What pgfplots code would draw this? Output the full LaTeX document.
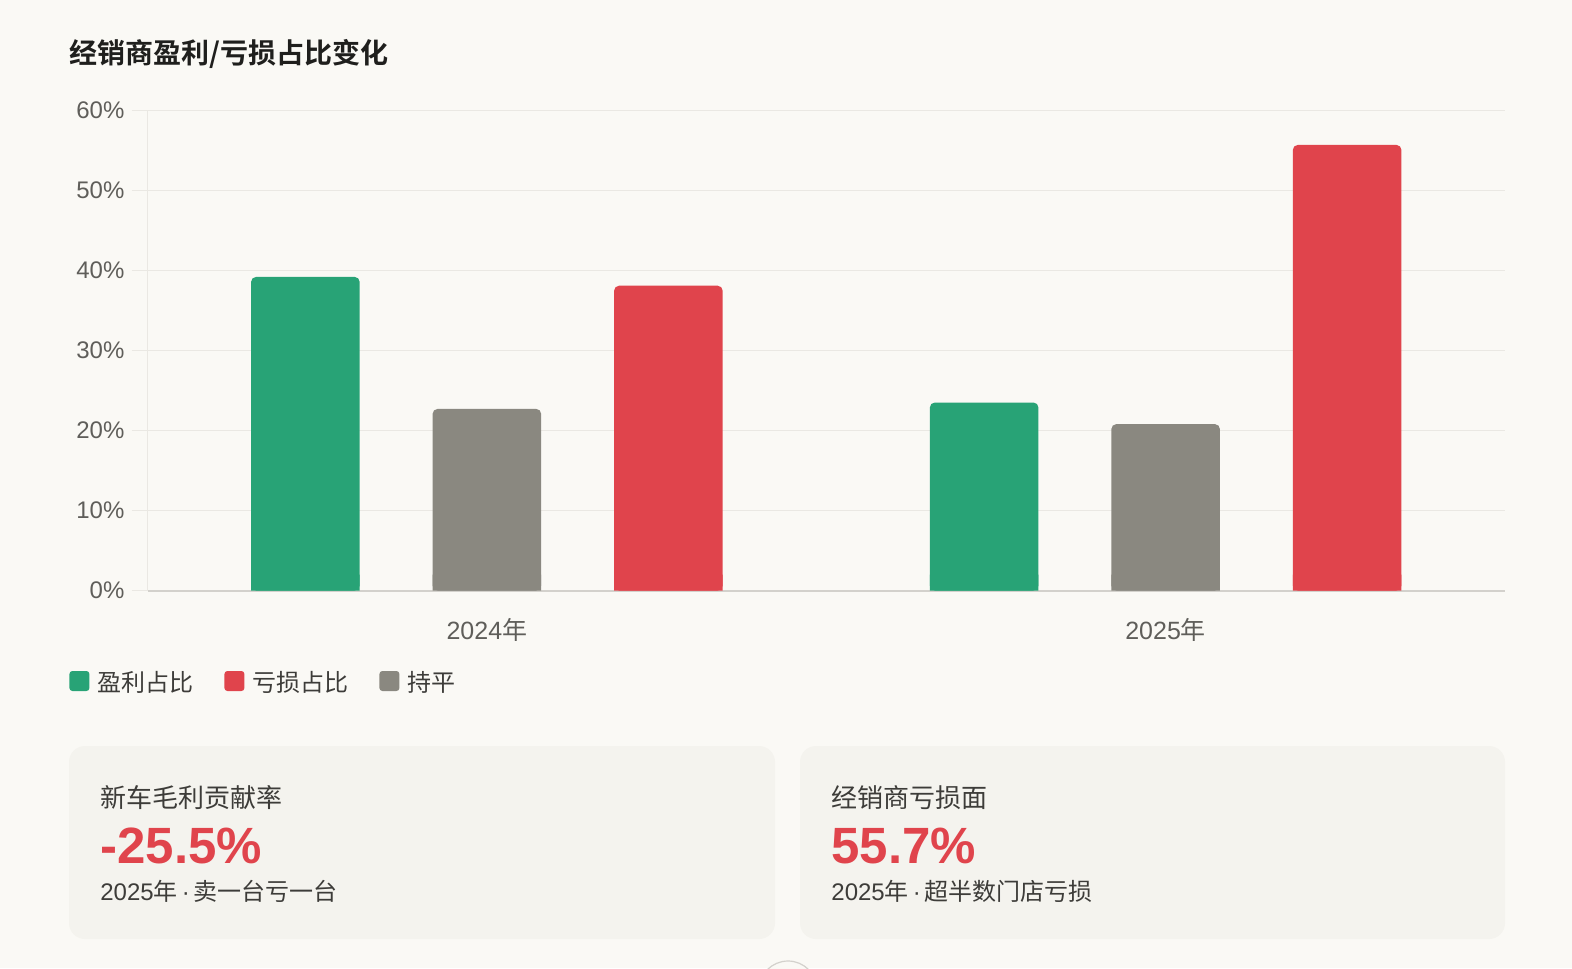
\documentclass[border=0pt]{standalone}
\usepackage{pgfplots}
\pgfplotsset{compat=1.18}
\usepackage{pgfplotstable}
\usepackage{fontspec}
\setmainfont{Liberation Sans}
\newfontfamily\cjk{Noto Sans CJK SC}[BoldFont={Noto Sans CJK SC Bold}]
\definecolor{bgc}{HTML}{FAF9F5}
\definecolor{cardc}{HTML}{F4F3EE}
\definecolor{cgreen}{HTML}{28A376}
\definecolor{cgray}{HTML}{8A8880}
\definecolor{cred}{HTML}{E0444C}
\definecolor{gridc}{HTML}{EAE8E3}
\definecolor{axisc}{HTML}{D3D1CC}
\definecolor{tickc}{HTML}{5F5E5A}
\definecolor{txtc}{HTML}{3D3C39}
\definecolor{titlec}{HTML}{1F1F1D}

\pgfplotstableread{
x v
0 39.2
1 23.5
}\profit
\pgfplotstableread{
x v
0 38.1
1 55.7
}\loss
\pgfplotstableread{
x v
0 22.7
1 20.8
}\flat

\begin{document}
\begin{tikzpicture}
\begin{scope}[x=0.5pt,y=-0.5pt]
\path[use as bounding box, fill=bgc] (0,0) rectangle (1572,968);
% title
\node[anchor=west, inner sep=0pt, text=titlec, font=\cjk\bfseries\fontsize{14}{16}\selectfont] at (69,54) {经销商盈利/亏损占比变化};
% cards
\fill[cardc, rounded corners=8pt] (69,746) rectangle (775,939);
\fill[cardc, rounded corners=8pt] (800,746) rectangle (1505,939);
\node[anchor=west, inner sep=0pt, text=txtc, font=\cjk\fontsize{13}{15}\selectfont] at (100,798) {新车毛利贡献率};
\node[anchor=west, inner sep=0pt, text=cred, font=\bfseries\fontsize{25.5}{28}\selectfont] at (100,846) {-25.5\%};
\node[anchor=west, inner sep=0pt, text=txtc, font=\fontsize{12}{14}\selectfont] at (100,891) {2025{\cjk 年}\,·\,{\cjk 卖一台亏一台}};
\node[anchor=west, inner sep=0pt, text=txtc, font=\cjk\fontsize{13}{15}\selectfont] at (831,798) {经销商亏损面};
\node[anchor=west, inner sep=0pt, text=cred, font=\bfseries\fontsize{25.5}{28}\selectfont] at (831,846) {55.7\%};
\node[anchor=west, inner sep=0pt, text=txtc, font=\fontsize{12}{14}\selectfont] at (831,891) {2025{\cjk 年}\,·\,{\cjk 超半数门店亏损}};
% bottom circle
\begin{scope}
\clip (0,0) rectangle (1572,968);
\draw[draw=axisc, fill=bgc, line width=0.6pt] (788,990) circle[radius=14.5pt];
\end{scope}
\end{scope}

\begin{axis}[
  at={(73.75pt,-295.25pt)}, anchor=south west,
  scale only axis, width=678.75pt, height=240pt,
  xmin=-0.5, xmax=1.5, ymin=0, ymax=60,
  ytick={0,10,...,60},
  xtick={0,1}, xticklabels={{2024{\cjk 年}},{2025{\cjk 年}}},
  axis x line*=bottom, axis y line*=left,
  x axis line style={draw=axisc, line width=1pt, -},
  y axis line style={draw=gridc, line width=0.75pt, -},
  ymajorgrids, grid style={draw=gridc, line width=0.75pt},
  ytick style={draw=gridc, line width=0.75pt}, major tick length=8pt, tick align=outside,
  xtick style={draw=none},
  /pgf/number format/assume math mode=true,
  yticklabel={\pgfmathprintnumber{\tick}\%},
  yticklabel style={font=\fontsize{12}{13}\selectfont, text=tickc},
  xticklabel style={font=\fontsize{12.5}{14}\selectfont, text=tickc, yshift=-2.5pt},
  ybar, bar width=0.160,
  legend columns=3,
  legend style={at={(axis description cs:-0.0578,-0.1927)}, anchor=west,
    draw=none, fill=none, inner sep=0pt,
    font=\cjk\fontsize{12}{14}\selectfont, text=txtc,
    /tikz/every odd column/.append style={column sep=2pt},
    /tikz/every even column/.append style={column sep=13.5pt}},
  legend cell align=left,
]
\addplot[fill=cgreen, draw=none, bar shift=-0.2674, rounded corners=2.5pt,
  legend image code/.code={\fill[cgreen,rounded corners=1.5pt] (0pt,-4pt) rectangle (10pt,6pt);}]
  table[x=x,y=v] {\profit};
\addlegendentry{盈利占比}
\addplot[fill=cred, draw=none, bar shift=0.2674, rounded corners=2.5pt,
  legend image code/.code={\fill[cred,rounded corners=1.5pt] (0pt,-4pt) rectangle (10pt,6pt);}]
  table[x=x,y=v] {\loss};
\addlegendentry{亏损占比}
\addplot[fill=cgray, draw=none, bar shift=0, rounded corners=2.5pt,
  legend image code/.code={\fill[cgray,rounded corners=1.5pt] (0pt,-4pt) rectangle (10pt,6pt);}]
  table[x=x,y=v] {\flat};
\addlegendentry{持平}
% square bottoms (cover lower rounded corners)
\addplot[fill=cgreen, draw=none, bar shift=-0.2674, forget plot] table[x=x,y expr={min(\thisrow{v},2)}] {\profit};
\addplot[fill=cred, draw=none, bar shift=0.2674, forget plot] table[x=x,y expr={min(\thisrow{v},2)}] {\loss};
\addplot[fill=cgray, draw=none, bar shift=0, forget plot] table[x=x,y expr={min(\thisrow{v},2)}] {\flat};
\end{axis}
\end{tikzpicture}
\end{document}
